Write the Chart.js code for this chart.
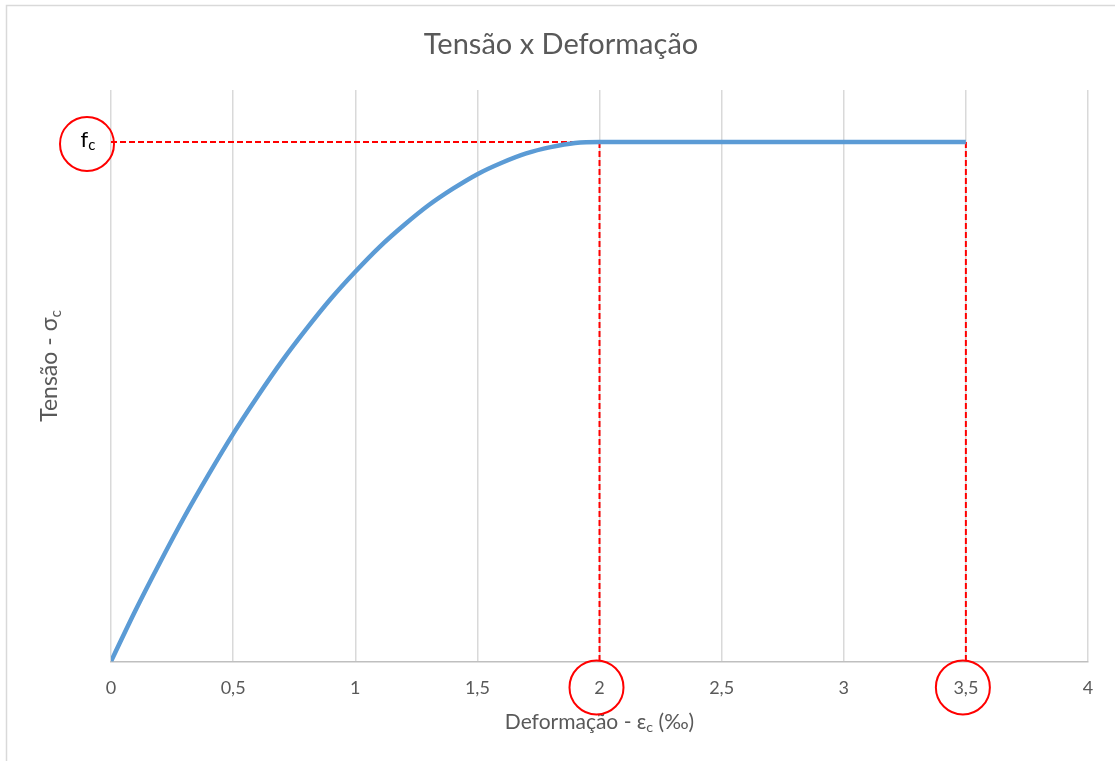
<!DOCTYPE html>
<html>
<head>
<meta charset="utf-8">
<script src="https://cdn.jsdelivr.net/npm/chart.js@4/dist/chart.umd.min.js"></script>
<style>
  html, body { margin: 0; padding: 0; background: #fff; }
  #wrap { width: 1115px; height: 761px; }
</style>
</head>
<body>
<div id="wrap"><canvas id="chart" width="1115" height="761"></canvas></div>
<script>
// strain (per mille) and stress (relative to fc)
var strain = [0, 0.1, 0.2, 0.3, 0.4, 0.5, 0.6, 0.7, 0.8, 0.9, 1, 1.1, 1.2, 1.3, 1.4, 1.5, 1.6, 1.7, 1.8, 1.9, 2, 3.5];
var stress = [0, 0.098, 0.19, 0.278, 0.36, 0.438, 0.51, 0.578, 0.64, 0.698, 0.75, 0.798, 0.84, 0.878, 0.91, 0.938, 0.96, 0.978, 0.99, 0.998, 1, 1];
var xTicks = [0, 0.5, 1, 1.5, 2, 2.5, 3, 3.5, 4];
var markedStrains = [2, 3.5];
var fcLevel = 1;

var FONT = 'Lato, "Open Sans", sans-serif';
var GREY = '#595959';

function pts(xs, ys) {
  var out = [];
  for (var i = 0; i < xs.length; i++) out.push({x: xs[i], y: ys[i]});
  return out;
}

// text with a subscript "c" part
function drawSub(ctx, parts, x, y, size) {
  var w = 0;
  parts.forEach(function (p) {
    ctx.font = (p.sub ? size * 0.68 : size) + 'px ' + FONT;
    w += ctx.measureText(p.t).width;
  });
  var cx = x - w / 2;
  parts.forEach(function (p) {
    ctx.font = (p.sub ? size * 0.68 : size) + 'px ' + FONT;
    ctx.fillText(p.t, cx, p.sub ? y + size * 0.25 : y);
    cx += ctx.measureText(p.t).width;
  });
}

var decor = {
  id: 'decor',
  afterDraw: function (chart) {
    var ctx = chart.ctx, xs = chart.scales.x, ys = chart.scales.y, a = chart.chartArea;
    ctx.save();
    // frame
    ctx.strokeStyle = '#d9d9d9';
    ctx.lineWidth = 1.5;
    ctx.strokeRect(6.5, 5.5, 1300, 900);
    // title
    ctx.fillStyle = GREY;
    ctx.textAlign = 'center';
    ctx.textBaseline = 'middle';
    ctx.font = '29px ' + FONT;
    ctx.fillText('Tensão x Deformação', 561, 45);
    // axis titles
    ctx.textAlign = 'left';
    drawSub(ctx, [{t: 'Deformação - ε'}, {t: 'c', sub: true}, {t: ' (‰)'}], (a.left + a.right) / 2, 722, 21);
    ctx.save();
    ctx.translate(50, 366);
    ctx.rotate(-Math.PI / 2);
    drawSub(ctx, [{t: 'Tensão - σ'}, {t: 'c', sub: true}], 0, 0, 23);
    ctx.restore();
    // fc label and circles
    ctx.fillStyle = '#000';
    var fy = ys.getPixelForValue(fcLevel);
    drawSub(ctx, [{t: 'f'}, {t: 'c', sub: true}], a.left - 23, fy - 2, 22);
    ctx.strokeStyle = '#ff0000';
    ctx.lineWidth = 2;
    ctx.beginPath();
    ctx.arc(a.left - 24, fy + 2, 27, 0, Math.PI * 2);
    ctx.stroke();
    markedStrains.forEach(function (v) {
      ctx.beginPath();
      ctx.arc(xs.getPixelForValue(v) - 3, a.bottom + 26, 27, 0, Math.PI * 2);
      ctx.stroke();
    });
    ctx.restore();
  }
};

var refSets = [];
refSets.push(pts([0, markedStrains[0]], [fcLevel, fcLevel]));
markedStrains.forEach(function (v) { refSets.push(pts([v, v], [fcLevel, 0])); });

var datasets = [{
  data: pts(strain, stress),
  borderColor: '#5b9bd5',
  borderWidth: 4.5,
  pointRadius: 0,
  cubicInterpolationMode: 'monotone',
  fill: false,
  order: 1
}];
refSets.forEach(function (d) {
  datasets.push({
    data: d,
    borderColor: '#ff0000',
    borderWidth: 2,
    borderDash: [6, 3],
    pointRadius: 0,
    fill: false,
    order: 2
  });
});

new Chart(document.getElementById('chart'), {
  type: 'line',
  data: { datasets: datasets },
  options: {
    responsive: false,
    animation: false,
    layout: { padding: { left: 103, right: 27, top: 90, bottom: 46 } },
    plugins: { legend: { display: false }, tooltip: { enabled: false }, title: { display: false } },
    scales: {
      x: {
        type: 'linear',
        min: 0,
        max: 4,
        afterBuildTicks: function (s) { s.ticks = xTicks.map(function (v) { return {value: v}; }); },
        ticks: {
          color: GREY,
          font: { family: FONT, size: 18 },
          padding: 16,
          callback: function (v) { return String(v).replace('.', ','); }
        },
        grid: { color: '#d9d9d9', lineWidth: 1.5, drawTicks: false },
        border: { color: '#bfbfbf', width: 1.5 }
      },
      y: {
        min: 0,
        max: 1.1,
        ticks: { display: false },
        grid: { display: false },
        border: { display: false }
      }
    }
  },
  plugins: [decor]
});
</script>
</body>
</html>
